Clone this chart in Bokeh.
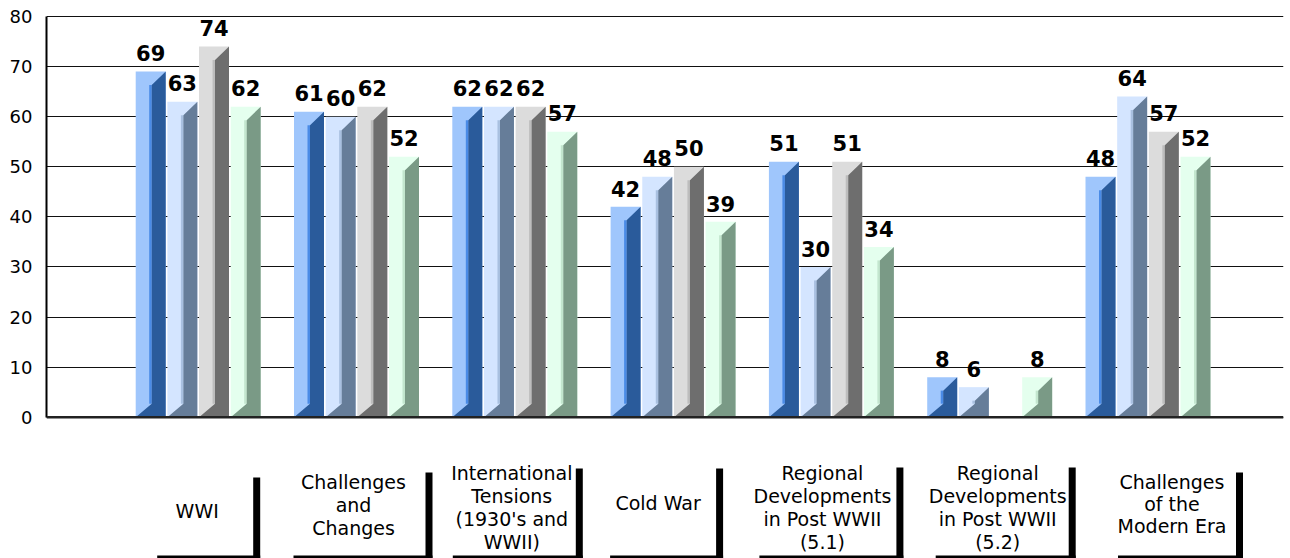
from bokeh.plotting import figure
from bokeh.models import FixedTicker, Span, Range1d
from bokeh.core.properties import value
from bokeh.embed import file_html
from bokeh.resources import INLINE

# ---------------- data ----------------
categories = ["WWI", "Challenges and Changes",
              "International Tensions (1930's and WWII)", "Cold War",
              "Regional Developments in Post WWII (5.1)",
              "Regional Developments in Post WWII (5.2)",
              "Challenges of the Modern Era"]
category_lines = [["WWI"],
                  ["Challenges", "and", "Changes"],
                  ["International", "Tensions", "(1930's and", "WWII)"],
                  ["Cold War"],
                  ["Regional", "Developments", "in Post WWII", "(5.1)"],
                  ["Regional", "Developments", "in Post WWII", "(5.2)"],
                  ["Challenges", "of the", "Modern Era"]]
series_1 = [69, 61, 62, 42, 51, 8, 48]
series_2 = [63, 60, 62, 48, 30, 6, 64]
series_3 = [74, 62, 62, 50, 51, None, 57]
series_4 = [62, 52, 57, 39, 34, 8, 52]
y_ticks = [0, 10, 20, 30, 40, 50, 60, 70, 80]

# ---------------- styles / layout ----------------
series_list = [series_1, series_2, series_3, series_4]
bar_offsets = [-0.3, -0.1, 0.1, 0.3]
front_colors = ["#9FC6FC", "#D4E5FF", "#DCDCDC", "#E4FFEE"]
side_colors = ["#2A5B9B", "#667D99", "#6E6E6E", "#7A9A86"]
stripe_colors = ["#4A8BE6", "#A9C0E0", "#BDBDBD", "#C3E6CE"]

PX_X = 158.3   # px per category unit
PX_Y = 5.009   # px per value unit
Y0_PAGE = 416.7
G0_PAGE = 197.7
FRAME_L, FRAME_R, FRAME_T, FRAME_B = 46, 1283, 15, 558


def ypage(y):
    return (Y0_PAGE - y) / PX_Y


W = 30 / PX_X
XM = 16 / PX_X
STRIPE = 2.5 / PX_X
DY = 13.5 / PX_Y

x_start = -(G0_PAGE - FRAME_L) / PX_X
x_end = x_start + (FRAME_R - FRAME_L) / PX_X
y_top = ypage(FRAME_T)
y_bottom = ypage(FRAME_B)

p = figure(width=1290, height=558, output_backend="svg", toolbar_location=None,
           x_range=Range1d(x_start, x_end), y_range=Range1d(y_bottom, y_top),
           x_axis_location=None, min_border_left=FRAME_L, min_border_right=1290 - FRAME_R,
           min_border_top=FRAME_T, min_border_bottom=0)
p.outline_line_color = None
p.background_fill_color = "white"
p.border_fill_color = "white"
p.xgrid.visible = False
p.ygrid.ticker = FixedTicker(ticks=y_ticks)
p.ygrid.grid_line_color = "#111111"
p.ygrid.grid_line_width = 1

ax = p.yaxis[0]
ax.ticker = FixedTicker(ticks=y_ticks)
ax.bounds = (0, 80)
ax.axis_line_width = 2
ax.axis_line_color = "black"
ax.major_tick_in = 0
ax.major_tick_out = 0
ax.minor_tick_in = 0
ax.minor_tick_out = 0
ax.major_label_standoff = 14
ax.major_label_text_font = "DejaVu Sans"
ax.major_label_text_font_size = "18px"
ax.major_label_text_color = "black"

p.add_layout(Span(location=0, dimension="width", line_color="#222222", line_width=2.5))

# ---------------- 3D-look bars ----------------
LABEL_GAP = (10.5 + 7.8) / PX_Y
for s, vals in enumerate(series_list):
    fl, fr, fb, ft = [], [], [], []
    sl, sr, sb, st = [], [], [], []
    pxs, pys = [], []
    lx, ly, lt = [], [], []
    for g, v in enumerate(vals):
        if v is None:
            continue
        xc = g + bar_offsets[s]
        xl = xc - W / 2
        xr = xc + W / 2
        xm = xl + XM
        upper = max(v - DY, DY)
        fl.append(xl); fr.append(xr); fb.append(0); ft.append(v)
        sl.append(xm - STRIPE); sr.append(xm); sb.append(DY); st.append(upper)
        pxs.append([xl, xm, xm, xr, xr])
        pys.append([0, DY, upper, v, 0])
        lx.append(xc); ly.append(v + LABEL_GAP); lt.append(str(v))
    p.quad(left=fl, right=fr, bottom=fb, top=ft, fill_color=front_colors[s], line_color=None)
    p.quad(left=sl, right=sr, bottom=sb, top=st, fill_color=stripe_colors[s], line_color=None)
    p.patches(xs=pxs, ys=pys, fill_color=side_colors[s], line_color=None)
    p.text(x=lx, y=ly, text=lt, text_align="center",
           text_baseline="middle", text_font=value("DejaVu Sans"),
           text_font_style="bold", text_font_size="21px", text_color="black")

# ---------------- category label boxes ----------------
label_dx = [-1, -3, -3, -15, -9, 8, 24]
box_left = [-41, -63, -62, -63, -72, -54, -30]
box_right = [62, 76, 68, 50, 72, 86, 95]
vbar_top = [477, 472, 468, 468, 467, 467, 472]
line_centers = [[510], [481, 504, 527], [472, 495, 518, 541], [502],
                [472, 495, 518, 541], [472, 495, 518, 541], [481, 503, 525]]

vl, vr, vb, vt = [], [], [], []
hl, hr, hb, ht = [], [], [], []
tx, ty, tt = [], [], []
for g, lines in enumerate(category_lines):
    vl.append(g + (box_right[g] - 7) / PX_X)
    vr.append(g + box_right[g] / PX_X)
    vb.append(y_bottom - 1)
    vt.append(ypage(vbar_top[g]))
    hl.append(g + box_left[g] / PX_X)
    hr.append(g + box_right[g] / PX_X)
    hb.append(y_bottom - 1)
    ht.append(ypage(555))
    for k, line in enumerate(lines):
        tx.append(g + label_dx[g] / PX_X)
        ty.append(ypage(line_centers[g][k]))
        tt.append(line)

p.quad(left=vl, right=vr, bottom=vb, top=vt, fill_color="black", line_color=None)
p.quad(left=hl, right=hr, bottom=hb, top=ht, fill_color="black", line_color=None)
p.text(x=tx, y=ty, text=tt, text_align="center", text_baseline="middle",
       text_font=value("DejaVu Sans"), text_font_size="19px", text_color="black")

open("out.html", "w").write(file_html(p, INLINE))
